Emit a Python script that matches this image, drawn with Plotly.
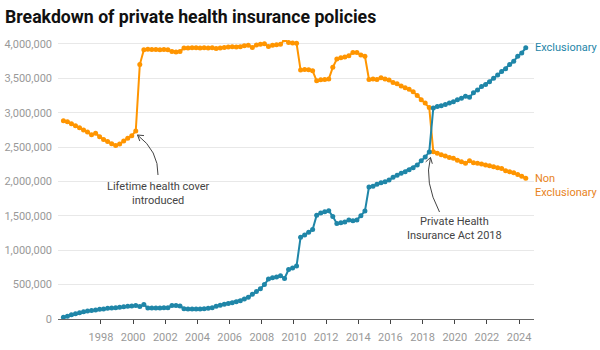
import math
import pandas as pd
import plotly.graph_objects as go

# Quarterly observations, Sep 1995 .. Jun 2024
quarters = pd.date_range("1995-09-01", "2024-06-01", freq="3MS").strftime("%Y-%m-%d").tolist()

non_exclusionary = [
    2.885, 2.87, 2.84, 2.81, 2.78, 2.75, 2.72, 2.68, 2.70, 2.65,
    2.61, 2.58, 2.55, 2.525, 2.545, 2.59, 2.63, 2.665, 2.735, 3.70,
    3.915, 3.925, 3.92, 3.92, 3.915, 3.92, 3.915, 3.89, 3.885, 3.89,
    3.94, 3.94, 3.945, 3.945, 3.94, 3.945, 3.94, 3.945, 3.935, 3.94,
    3.95, 3.955, 3.96, 3.955, 3.96, 3.975, 3.98, 3.95, 3.985, 3.995,
    4.005, 3.965, 3.98, 3.99, 3.995, 4.06, 4.02, 4.015, 4.01, 3.62,
    3.63, 3.625, 3.61, 3.465, 3.48, 3.485, 3.49, 3.66, 3.78, 3.80,
    3.81, 3.83, 3.875, 3.875, 3.84, 3.82, 3.485, 3.49, 3.485, 3.51,
    3.49, 3.475, 3.44, 3.42, 3.39, 3.365, 3.34, 3.305, 3.25, 3.19,
    3.14, 3.075, 2.433, 2.41, 2.39, 2.37, 2.35, 2.337, 2.31, 2.288,
    2.265, 2.30, 2.274, 2.265, 2.254, 2.24, 2.23, 2.215, 2.20, 2.19,
    2.156, 2.14, 2.127, 2.10, 2.075, 2.046,
]

exclusionary = [
    0.025, 0.04, 0.06, 0.075, 0.09, 0.105, 0.115, 0.125, 0.13, 0.14,
    0.145, 0.155, 0.16, 0.165, 0.17, 0.178, 0.185, 0.19, 0.195, 0.18,
    0.21, 0.16, 0.16, 0.16, 0.16, 0.165, 0.165, 0.195, 0.195, 0.19,
    0.15, 0.145, 0.145, 0.145, 0.145, 0.15, 0.155, 0.165, 0.185, 0.20,
    0.215, 0.225, 0.235, 0.25, 0.265, 0.29, 0.315, 0.36, 0.40, 0.44,
    0.50, 0.58, 0.60, 0.61, 0.63, 0.59, 0.72, 0.74, 0.77, 1.19,
    1.22, 1.26, 1.30, 1.51, 1.54, 1.56, 1.575, 1.49, 1.39, 1.40,
    1.41, 1.44, 1.43, 1.44, 1.50, 1.57, 1.92, 1.93, 1.96, 1.98,
    1.995, 2.02, 2.06, 2.09, 2.12, 2.14, 2.17, 2.20, 2.24, 2.30,
    2.355, 2.43, 3.07, 3.09, 3.10, 3.12, 3.14, 3.16, 3.19, 3.21,
    3.24, 3.225, 3.29, 3.33, 3.38, 3.41, 3.45, 3.50, 3.55, 3.60,
    3.64, 3.70, 3.75, 3.82, 3.87, 3.945,
]

tick_years = [1998, 2000, 2002, 2004, 2006, 2008, 2010, 2012,
              2014, 2016, 2018, 2020, 2022, 2024]

series_names = ["Exclusionary", "Non<br>Exclusionary"]
annotation_texts = ["Lifetime health cover<br>introduced", "Private Health<br>Insurance Act 2018"]
title_text = "Breakdown of private health insurance policies"

non_excl_vals = [v * 1_000_000 for v in non_exclusionary]
excl_vals = [v * 1_000_000 for v in exclusionary]

BLUE = "#1f86a8"
ORANGE = "#ff9500"
ORANGE_TXT = "#e8831c"

W_FIG, H_FIG = 600, 350
ML, MR, MT, MB = 58, 66, 40, 31
PW = W_FIG - ML - MR
PH = H_FIG - MT - MB
BOTTOM = H_FIG - MB


def p(px, py):
    return (px - ML) / PW, (BOTTOM - py) / PH


def curved_arrow(p0, c, p2, head=6.5):
    x0, y0 = p(*p0)
    xc, yc = p(*c)
    x2, y2 = p(*p2)
    dx, dy = p2[0] - c[0], p2[1] - c[1]
    n = math.hypot(dx, dy)
    bx, by = -dx / n, -dy / n
    pts = []
    for ang in (math.radians(32), -math.radians(32)):
        rx = bx * math.cos(ang) - by * math.sin(ang)
        ry = bx * math.sin(ang) + by * math.cos(ang)
        pts.append(p(p2[0] + rx * head, p2[1] + ry * head))
    path = (f"M{x0},{y0} Q{xc},{yc} {x2},{y2} "
            f"M{pts[0][0]},{pts[0][1]} L{x2},{y2} L{pts[1][0]},{pts[1][1]}")
    return dict(type="path", xref="paper", yref="paper", path=path,
                line=dict(color="#444", width=1))


fig = go.Figure()
fig.add_trace(go.Scatter(x=quarters, y=non_excl_vals, mode="lines+markers",
                         line=dict(color=ORANGE, width=2), marker=dict(color=ORANGE, size=5),
                         showlegend=False, hoverinfo="skip"))
fig.add_trace(go.Scatter(x=quarters, y=excl_vals, mode="lines+markers",
                         line=dict(color=BLUE, width=2), marker=dict(color=BLUE, size=5),
                         showlegend=False, hoverinfo="skip"))

font_family = "Roboto, sans-serif"

fig.update_layout(
    width=W_FIG, height=H_FIG,
    margin=dict(l=ML, r=MR, t=MT, b=MB, pad=0),
    paper_bgcolor="white", plot_bgcolor="white",
    font=dict(family=font_family, size=11, color="#999"),
    title=dict(text=f"<b>{title_text}</b>", x=5 / W_FIG, xanchor="left",
               y=1 - 17 / H_FIG, yanchor="middle",
               font=dict(family=font_family, size=17.7, color="#111")),
    xaxis=dict(type="date", range=["1995-05-01", "2024-12-05"], automargin=False,
               tickvals=[f"{y}-01-01" for y in tick_years],
               ticktext=[str(y) for y in tick_years],
               showgrid=False, showline=True, linecolor="#666", linewidth=1,
               ticks="outside", ticklen=4, tickcolor="#444", tickwidth=1,
               tickfont=dict(size=11, color="#999"), ticklabelstandoff=4,
               zeroline=False),
    yaxis=dict(range=[0, 4_058_000], tick0=0, dtick=500_000, tickformat=",d",
               automargin=False,
               showgrid=True, gridcolor="#e8e8e8", gridwidth=1,
               zeroline=False, showline=False, ticks="",
               tickfont=dict(size=11, color="#999"), ticklabelstandoff=5),
    shapes=[
        curved_arrow((158, 175), (158.6, 151), (137.5, 135)),
        curved_arrow((439.5, 212), (423.7, 181.6), (430.5, 157.5)),
    ],
    annotations=[
        dict(x=1, xref="paper", y=excl_vals[-1], yref="y", text=series_names[0],
             showarrow=False, xanchor="left", yanchor="middle", xshift=-1,
             font=dict(family=font_family, size=11, color=BLUE)),
        dict(x=1, xref="paper", y=non_excl_vals[-1], yref="y", text=series_names[1],
             showarrow=False, xanchor="left", yanchor="top", yshift=8, xshift=-1, align="left",
             font=dict(family=font_family, size=11, color=ORANGE_TXT)),
        dict(x=p(158, 0)[0], xref="paper", y=p(0, 193)[1], yref="paper",
             text=annotation_texts[0], showarrow=False, xanchor="center", yanchor="middle",
             font=dict(family=font_family, size=11, color="#444")),
        dict(x=p(454, 0)[0], xref="paper", y=p(0, 228.5)[1], yref="paper",
             text=annotation_texts[1], showarrow=False, xanchor="center", yanchor="middle",
             font=dict(family=font_family, size=11, color="#444")),
    ],
)

fig.write_html("out.html")
